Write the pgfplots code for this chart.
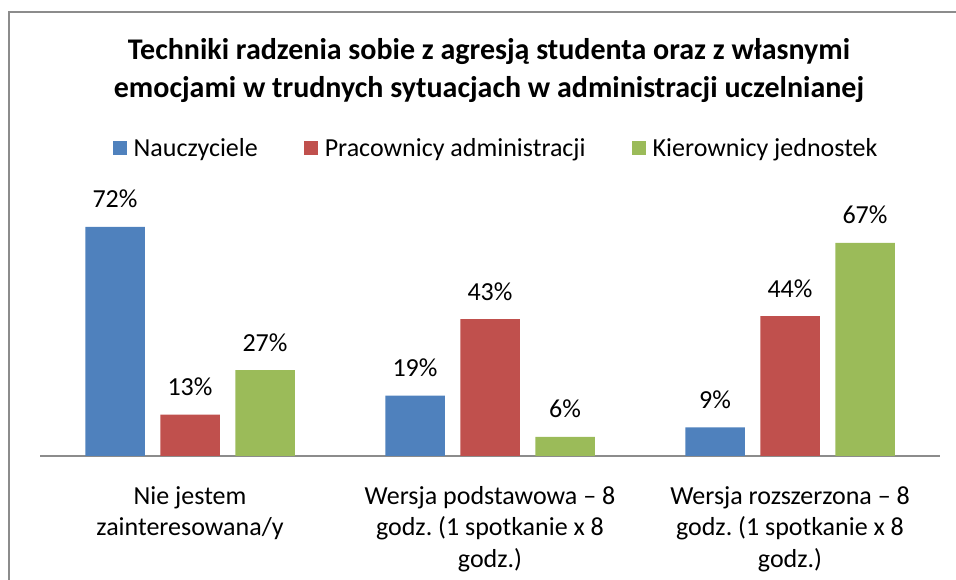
\documentclass[border=0pt]{standalone}
\usepackage{fontspec}
\setmainfont{Carlito}
\usepackage{pgfplots}
\pgfplotsset{compat=1.18}
\definecolor{XBlue}{HTML}{4F81BD}
\definecolor{XRed}{HTML}{C0504D}
\definecolor{XGreen}{HTML}{9BBB59}
\definecolor{XGray}{HTML}{8C8C8C}
\frenchspacing

\begin{document}
\begin{tikzpicture}
% axis box: bottom left at (0,0), 900pt x 254.5pt
\begin{axis}[
  at={(0pt,0pt)}, anchor=south west,
  scale only axis, width=900pt, height=254.5pt,
  ymin=0, ymax=80, xmin=-0.5, xmax=2.5,
  ybar=15.5pt, bar width=59.5pt,
  clip=false,
  axis x line=bottom, hide y axis,
  x axis line style={-, draw=XGray, line width=1.6pt},
  xtick={0,1,2},
  xticklabels={{Nie jestem\\zainteresowana/y},
               {Wersja podstawowa – 8\\godz. (1 spotkanie x 8\\godz.)},
               {Wersja rozszerzona – 8\\godz. (1 spotkanie x 8\\godz.)}},
  xtick style={draw=none},
  x tick label style={align=center, anchor=north, inner sep=0pt, yshift=-28pt,
    font=\fontsize{26}{31.5}\selectfont},
  /pgf/number format/assume math mode=true,
  nodes near coords={\pgfmathprintnumber{\pgfplotspointmeta}\%},
  nodes near coords style={font=\fontsize{26}{30}\selectfont, anchor=base,
    inner sep=0pt, yshift=19pt, text=black},
  legend style={at={(0.5056,1.21)}, anchor=center, draw=none, legend columns=3,
    font=\fontsize{26}{30}\selectfont,
    nodes={inner sep=0pt},
    /tikz/every odd column/.append style={column sep=7pt},
    /tikz/every even column/.append style={column sep=46pt}},
  legend image code/.code={\fill[#1] (0pt,-7pt) rectangle (14pt,7pt);},
]
\addplot[fill=XBlue, draw=none] coordinates {(0,72) (1,19) (2,9)};
\addplot[fill=XRed, draw=none] coordinates {(0,13) (1,43) (2,44)};
\addplot[fill=XGreen, draw=none] coordinates {(0,27) (1,6) (2,67)};
\legend{Nauczyciele, Pracownicy administracji, Kierownicy jednostek}
\end{axis}
\path[use as bounding box] (-40pt,-124pt) rectangle (916pt,456pt);
\draw[XGray, line width=1.6pt] (-31pt,-124pt) -- (-31pt,444pt) -- (916pt,444pt);
\node[font=\bfseries\fontsize{30}{38}\selectfont, align=center] at (449pt,385pt)
  {Techniki radzenia sobie z agresją studenta oraz z własnymi\\
   emocjami w trudnych sytuacjach w administracji uczelnianej};
\end{tikzpicture}
\end{document}
